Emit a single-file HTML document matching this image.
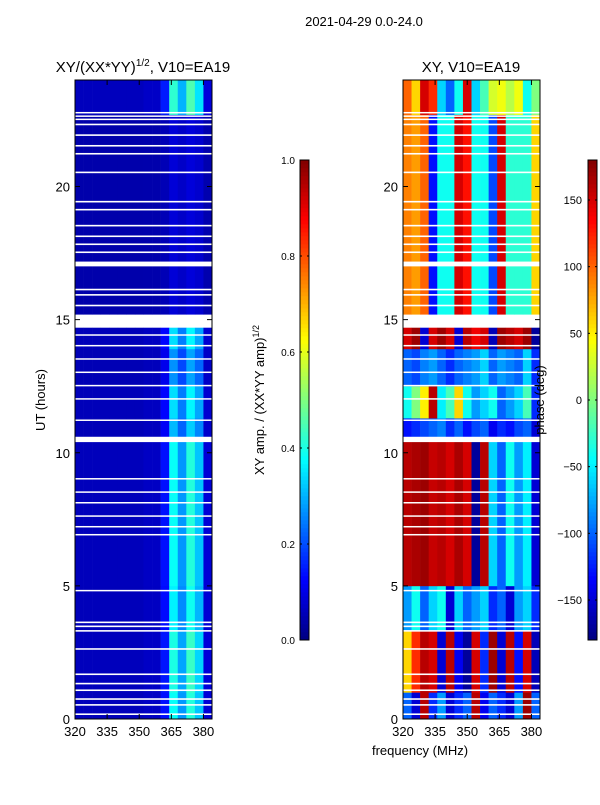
<!DOCTYPE html>
<html><head><meta charset="utf-8"><style>
body{margin:0;background:#fff}
svg text{font-family:"Liberation Sans",sans-serif;fill:#000}
</style></head><body>
<svg id="fig" width="600" height="800" xmlns="http://www.w3.org/2000/svg">
<text x="364" y="26" font-size="13" text-anchor="middle">2021-04-29 0.0-24.0</text>
<text x="143" y="72" font-size="15" text-anchor="middle">XY/(XX*YY)<tspan font-size="10" dy="-6">1/2</tspan><tspan dy="6">, V10=EA19</tspan></text>
<text x="471" y="72" font-size="15" text-anchor="middle">XY, V10=EA19</text>
<text transform="translate(45,400) rotate(-90)" font-size="13" text-anchor="middle">UT (hours)</text>
<text x="420" y="755" font-size="13" text-anchor="middle">frequency (MHz)</text>
<text transform="translate(264,400) rotate(-90)" font-size="13" text-anchor="middle">XY amp. / (XX*YY amp)<tspan font-size="9" dy="-5">1/2</tspan></text>
<g id="left"></g>
<g id="right"></g>
<g id="cbs"></g>
<text transform="translate(544,400) rotate(-90)" font-size="13" text-anchor="middle">phase (deg)</text>
</svg>
<script>
// ---- data ----
const freqTicks = [320,335,350,365,380];
const utTicks = [0,5,10,15,20];
const nCols = 16; // 4 MHz channels from 320 to 384
const colAmp = [0.06,0.06,0.06,0.06,0.06,0.06,0.06,0.06,0.07,0.07,0.15,0.42,0.3,0.45,0.35,0.09];
const bandStart = [0,1.0,3.3,5.0,10.5,11.3,12.5,13.9,15.2,22.7];
const bandEnd   = [1.0,3.3,5.0,10.5,11.3,12.5,13.9,14.7,22.7,24];
const bandGain  = [0.9,0.95,0.85,0.9,0.7,0.8,0.6,0.8,0.12,1.0];
const bandPhase = [
 [-100,-150,160,-120,-80,-150,-120,-100,160,-140,-100,-120,-150,-80,170,-100],
 [60,120,160,150,-150,160,-140,-170,150,-120,170,-150,160,-130,150,-160],
 [-80,-40,-100,-60,-40,-150,-60,-100,-80,-60,-120,-100,-150,-80,-60,-120],
 [160,165,170,155,160,150,165,150,-170,160,-60,-100,-40,-80,-50,-150],
 [-130,-120,-110,-100,-90,-120,-100,-130,-110,-100,-140,-120,-130,-110,-100,-150],
 [-40,0,50,160,-50,-20,60,-40,-80,-60,-40,-100,-80,-60,-20,-120],
 [-100,-110,-90,-80,-100,-120,-100,-90,-80,-60,-100,-80,-90,-100,-60,-120],
 [150,170,-150,150,170,150,-150,160,140,150,-160,170,160,150,170,-170],
 [90,80,100,-130,-40,-40,150,130,-40,-40,-110,150,-30,-30,-30,60],
 [100,60,150,120,-60,-100,-40,150,-60,-20,30,40,20,40,-40,0]
];
const flagStart = [0.15,0.5,0.72,1.05,1.3,1.65,2.6,3.28,3.45,3.6,4.8,6.9,7.2,7.6,8.1,8.5,9.0,10.4,11.2,12.0,12.5,13.0,13.5,14.0,14.4,14.7,15.5,15.9,16.1,17.0,17.5,17.8,18.1,18.5,19.1,19.4,20.5,21.2,21.5,21.9,22.3,22.5,22.62,22.75];
const flagLen   = [0.06,0.06,0.06,0.06,0.06,0.06,0.06,0.06,0.06,0.06,0.05,0.05,0.05,0.05,0.05,0.05,0.05,0.2,0.05,0.05,0.05,0.05,0.05,0.05,0.05,0.45,0.06,0.06,0.06,0.18,0.06,0.06,0.06,0.06,0.06,0.06,0.06,0.06,0.06,0.06,0.06,0.05,0.05,0.05];
const ampTicks = [0.0,0.2,0.4,0.6,0.8,1.0];
const phaseTicks = [-150,-100,-50,0,50,100,150];
// ---- helpers ----
const NS="http://www.w3.org/2000/svg";
const Y0=719,Y1=80, FMIN=320,FMAX=384;
const yScale=h=>Y0-(h/24)*(Y0-Y1);
const xScale=(f,x0)=>x0+(f-FMIN)/(FMAX-FMIN)*137;
function jet(v){v=Math.max(0,Math.min(1,v));const c=t=>Math.round(255*Math.max(0,Math.min(1,1.5-Math.abs(4*v-t))));return `rgb(${c(3)},${c(2)},${c(1)})`;}
function mk(tag,p,attrs){const e=document.createElementNS(NS,tag);for(const k in attrs)e.setAttribute(k,attrs[k]);p.appendChild(e);return e;}
function panel(g,x0,valFn,name){
 for(let b=0;b<bandStart.length;b++){
  for(let c=0;c<nCols;c++){
   const x=xScale(FMIN+c*4,x0),x2=xScale(FMIN+c*4+4,x0);
   const y=yScale(bandEnd[b]),y2=yScale(bandStart[b]);
   const r=mk('rect',g,{x:x,y:y,width:x2-x+0.3,height:y2-y+0.3,fill:valFn(b,c)});
   
   
  }
 }
 for(let i=0;i<flagStart.length;i++){
  const y=yScale(flagStart[i]+flagLen[i]),y2=yScale(flagStart[i]);
  const r=mk('rect',g,{x:x0,y:y,width:137,height:Math.max(1.5,y2-y),fill:'#fff'});
  
  
 }
 const fr=mk('rect',g,{x:x0,y:Y1,width:137,height:Y0-Y1,fill:'none',stroke:'#000','stroke-width':1});
 
 
 freqTicks.forEach(f=>{const x=xScale(f,x0);
  mk('line',g,{x1:x,x2:x,y1:Y0,y2:Y0-5,stroke:'#000'});mk('line',g,{x1:x,x2:x,y1:Y1,y2:Y1+5,stroke:'#000'});
  const t=mk('text',g,{x:x,y:Y0+17,'font-size':13,'text-anchor':'middle'});t.textContent=f;
  
  });
 utTicks.forEach(h=>{const y=yScale(h);
  mk('line',g,{x1:x0,x2:x0+5,y1:y,y2:y,stroke:'#000'});mk('line',g,{x1:x0+132,x2:x0+137,y1:y,y2:y,stroke:'#000'});
  const t=mk('text',g,{x:x0-5,y:y+5,'font-size':13,'text-anchor':'end'});t.textContent=h;
  
  });
}
panel(document.getElementById('left'),75,(b,c)=>jet(0.04+(colAmp[c]-0.04)*bandGain[b]),'amp');
panel(document.getElementById('right'),403,(b,c)=>jet((bandPhase[b][c]+180)/360),'phase');
function colorbar(x,ticks,toFrac,name){
 const g=document.getElementById('cbs');
 for(let i=0;i<120;i++){const r=mk('rect',g,{x:x,y:640-(i+1)*4,width:9,height:4.3,fill:jet((i+0.5)/120)});
  
  }
 mk('rect',g,{x:x,y:160,width:9,height:480,fill:'none',stroke:'#000'});
 ticks.forEach(v=>{const y=640-toFrac(v)*480;
  mk('line',g,{x1:x,x2:x+2,y1:y,y2:y,stroke:'#000'});mk('line',g,{x1:x+7,x2:x+9,y1:y,y2:y,stroke:'#000'});
  const t=mk('text',g,{x:x+(name==='amp'?-5:-6),y:y+4,'font-size':name==='amp'?10:11,'text-anchor':'end'});
  t.textContent=name==='amp'?v.toFixed(1):(v<0?'\u2212'+(-v):String(v));
  
  });
}
colorbar(300,ampTicks,v=>v,'amp');
colorbar(588,phaseTicks,v=>(v+180)/360,'phase');
</script>
</body></html>
